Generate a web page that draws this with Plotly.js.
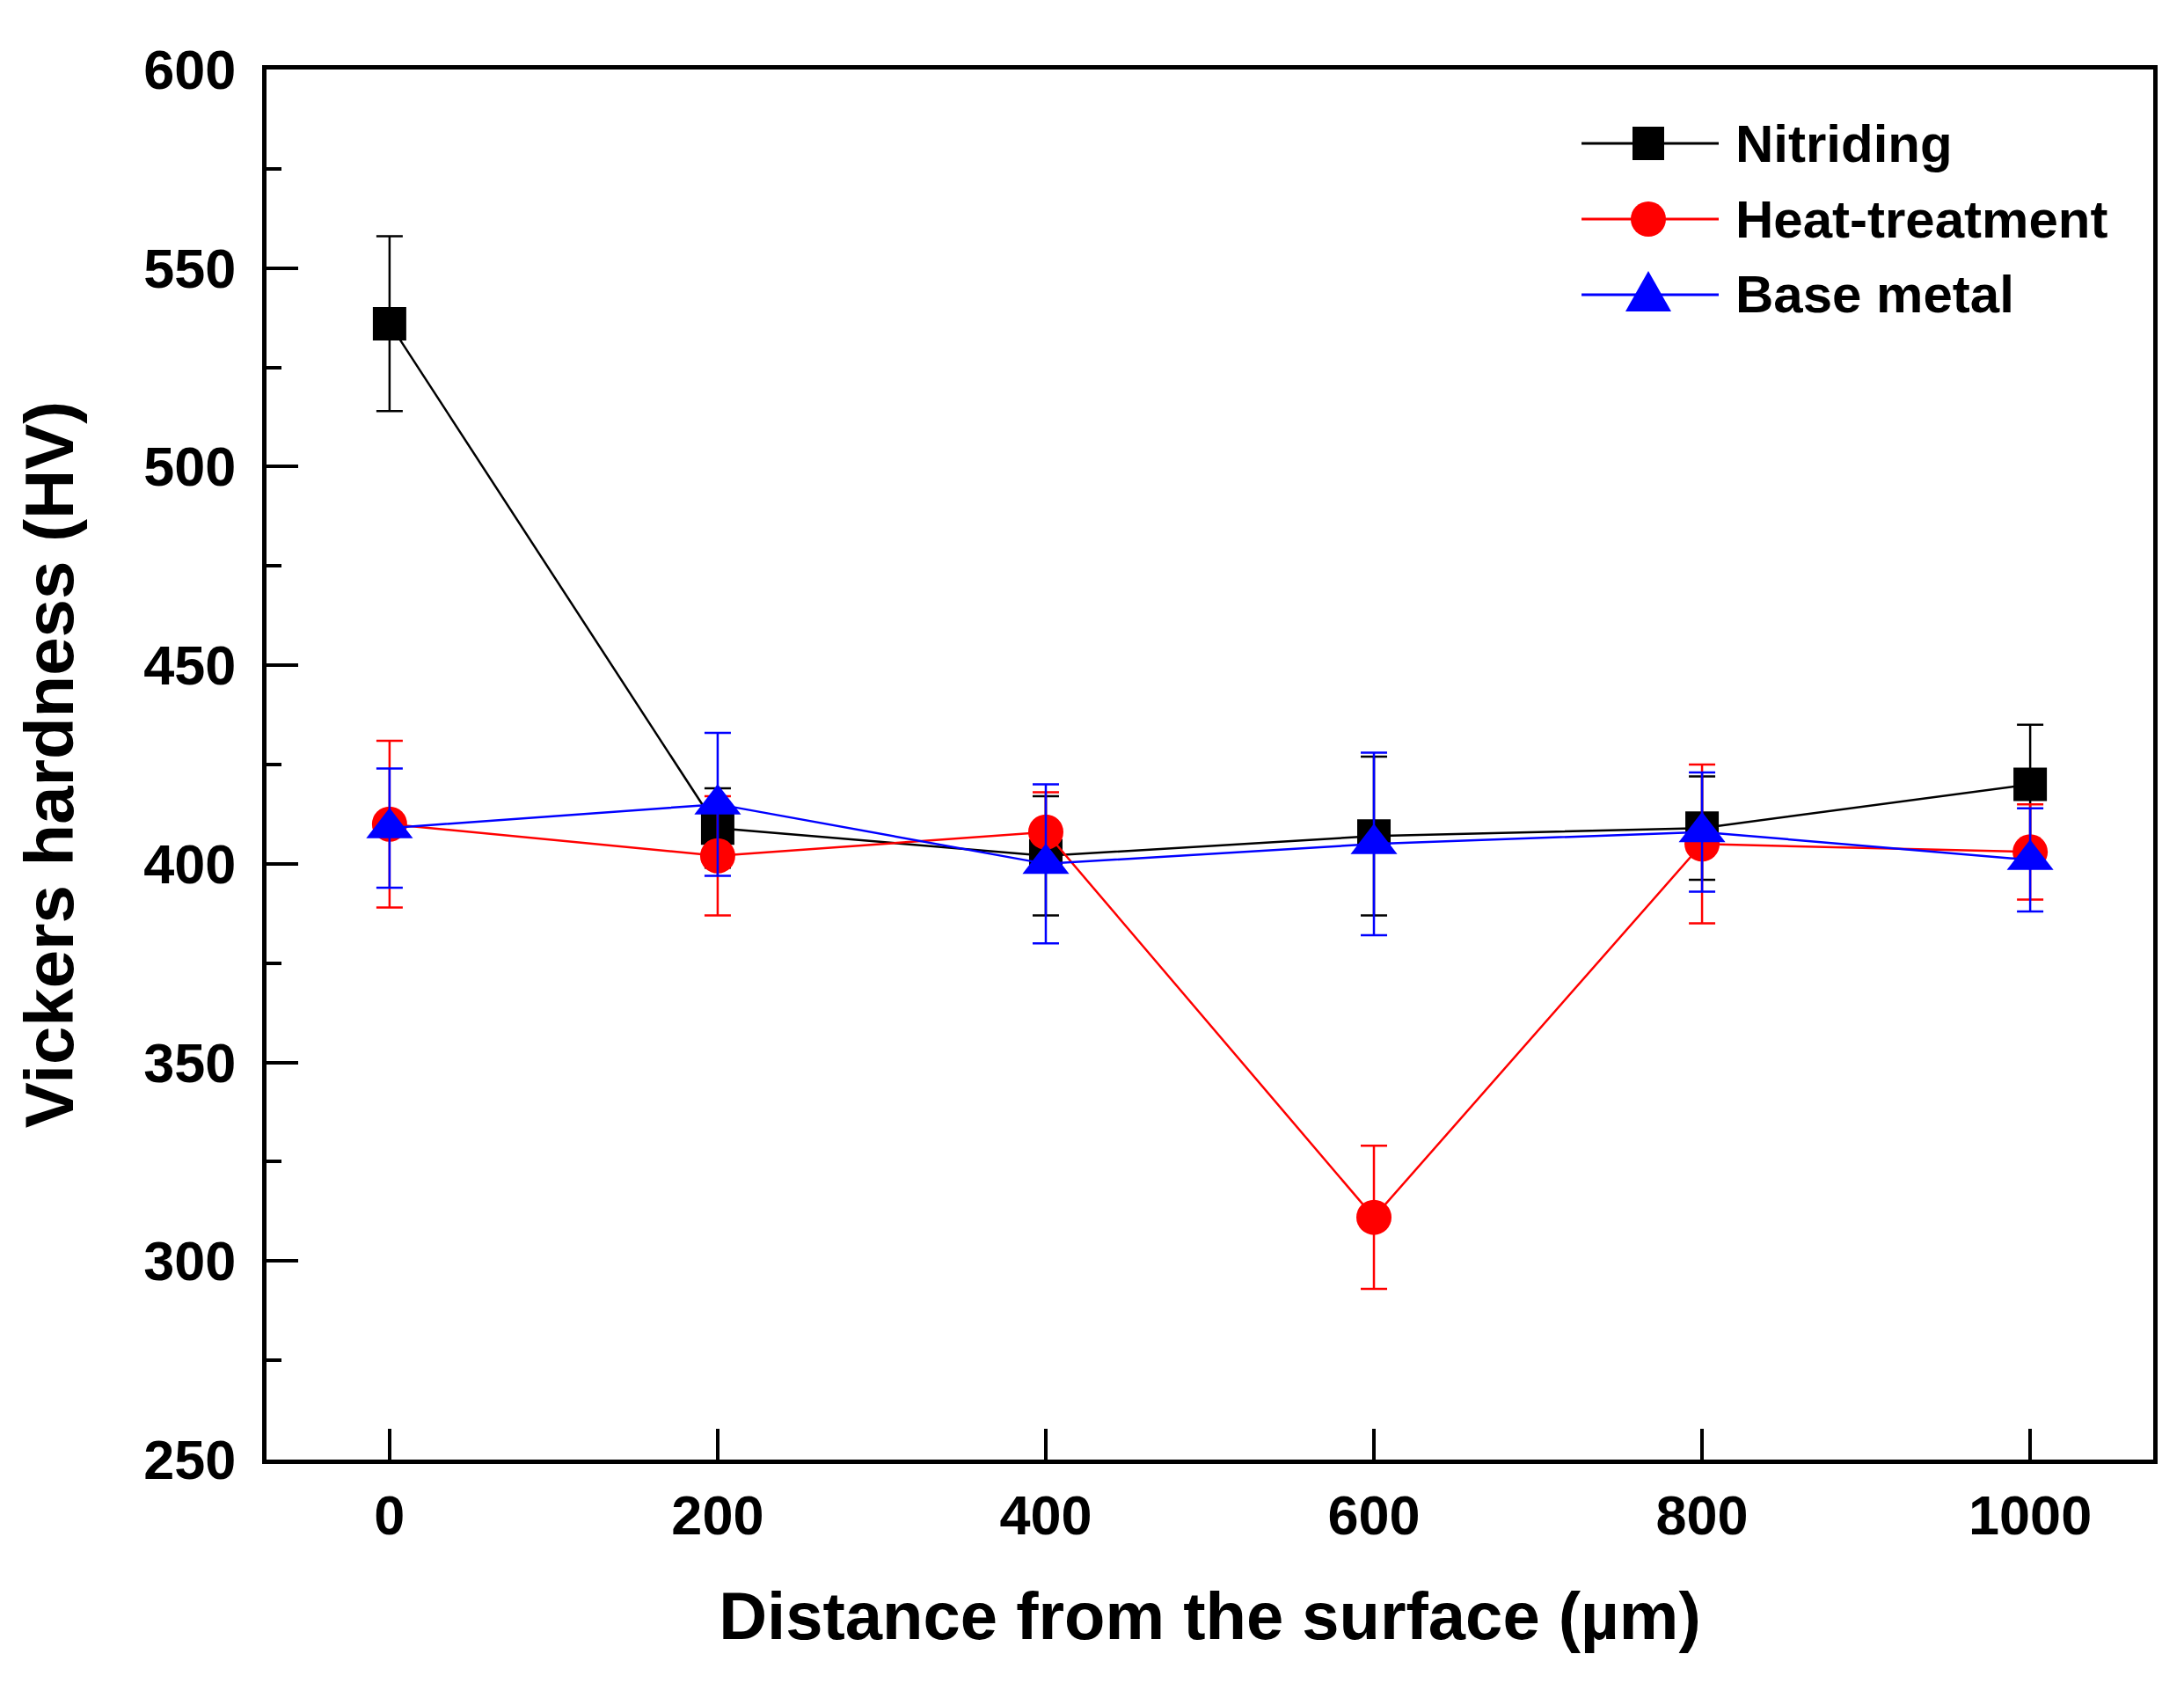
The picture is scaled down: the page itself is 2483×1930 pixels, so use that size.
<!DOCTYPE html>
<html>
<head>
<meta charset="utf-8">
<script src="https://cdn.plot.ly/plotly-3.0.1.min.js"></script>
<style>
  body { margin: 0; background: #fff; }
  #graph1 { width: 2483px; height: 1930px; }
</style>
</head>
<body>
<div id="graph1"></div>
<script>
// distance from the surface (um)
var distance = [0, 200, 400, 600, 800, 1000];

// hardness readings, HV, and the error bar half-lengths
var nitriding = [536, 409, 402, 407, 409, 420];
var nitridingErr = [22, 10, 15, 20, 13, 15];

var heatTreatment = [410, 402, 408, 311, 405, 403];
var heatTreatmentErr = [21, 15, 10, 18, 20, 12];

var baseMetal = [409, 415, 400, 405, 408, 401];
var baseMetalErr = [15, 18, 20, 23, 15, 13];

var seriesNames = ["Nitriding", "Heat-treatment", "Base metal"];
var xTicks = [0, 200, 400, 600, 800, 1000];

var FONT = "Liberation Sans, Arial, Helvetica, sans-serif";

function makeTrace(name, y, err, color, symbol, size) {
    return {
        x: distance,
        y: y,
        name: name,
        type: 'scatter',
        mode: 'lines+markers',
        line: {color: color, width: 2.5},
        marker: {color: color, symbol: symbol, size: size},
        error_y: {type: 'data', array: err, visible: true, color: color, thickness: 2.5, width: 15},
        showlegend: false
    }
}

var data = [
    makeTrace(seriesNames[0], nitriding, nitridingErr, '#000000', 'square', 38),
    makeTrace(seriesNames[1], heatTreatment, heatTreatmentErr, '#ff0000', 'circle', 40),
    makeTrace(seriesNames[2], baseMetal, baseMetalErr, '#0000ff', 'triangle-up', 46)
];

// hand drawn legend so the keys can be as big as in the figure
var legendColors = ['#000000', '#ff0000', '#0000ff'];
var legendRows = [0.9468, 0.8924, 0.8380];
var shapes = [];
var annotations = [];
for (var i = 0; i < seriesNames.length; i++) {
    var yy = legendRows[i];
    shapes.push({type: 'line', xref: 'paper', yref: 'paper', x0: 0.697, x1: 0.7697, y0: yy, y1: yy,
        line: {color: legendColors[i], width: 3}});
    var key = {xref: 'paper', yref: 'paper', xanchor: 0.7324, yanchor: yy,
        xsizemode: 'pixel', ysizemode: 'pixel', fillcolor: legendColors[i], line: {width: 0}};
    if (i == 0) {
        key.type = 'rect'; key.x0 = -18; key.x1 = 18; key.y0 = -19; key.y1 = 19;
    } else if (i == 1) {
        key.type = 'circle'; key.x0 = -20; key.x1 = 20; key.y0 = -20; key.y1 = 20;
    } else {
        key.type = 'path'; key.path = 'M-26,-19 L26,-19 L0,27 Z';
    }
    shapes.push(key);
    annotations.push({xref: 'paper', yref: 'paper', x: 0.7776, y: yy, xanchor: 'left', yanchor: 'middle',
        text: seriesNames[i], showarrow: false,
        font: {family: FONT, size: 60, color: '#000', weight: 'bold'}});
}

var layout = {
    width: 2483,
    height: 1930,
    autosize: false,
    margin: {l: 303, r: 35, t: 79, b: 271, pad: 0},
    paper_bgcolor: '#ffffff',
    plot_bgcolor: '#ffffff',
    font: {family: FONT, color: '#000', weight: 'bold'},
    showlegend: false,
    xaxis: {
        range: [-75, 1075],
        tickvals: xTicks,
        ticks: 'inside', ticklen: 35, tickwidth: 4, tickcolor: '#000',
        showline: true, linewidth: 5, linecolor: '#000', mirror: true,
        showgrid: false, zeroline: false,
        tickfont: {family: FONT, size: 63, weight: 'bold'},
        ticklabelstandoff: 4,
        title: {text: 'Distance from the surface (\u00b5m)', font: {family: FONT, size: 76, weight: 'bold'}, standoff: 56}
    },
    yaxis: {
        range: [250, 600],
        dtick: 50,
        ticks: 'inside', ticklen: 36, tickwidth: 4, tickcolor: '#000',
        minor: {dtick: 25, ticks: 'inside', ticklen: 17, tickwidth: 4, tickcolor: '#000'},
        showline: true, linewidth: 5, linecolor: '#000', mirror: true,
        showgrid: false, zeroline: false,
        tickfont: {family: FONT, size: 63, weight: 'bold'},
        ticklabelstandoff: 17,
        title: {text: 'Vickers hardness (HV)', font: {family: FONT, size: 78, weight: 'bold'}, standoff: 55}
    },
    shapes: shapes,
    annotations: annotations
};

Plotly.newPlot('graph1', data, layout, {staticPlot: true});
</script>
</body>
</html>
